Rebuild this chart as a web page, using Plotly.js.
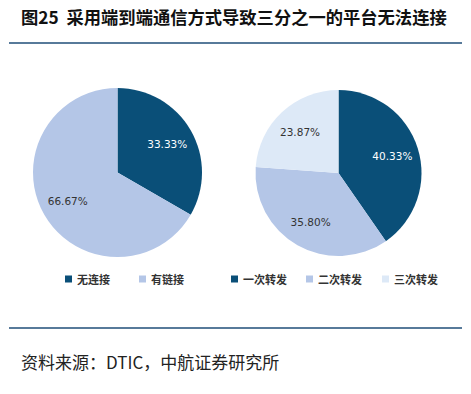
<!DOCTYPE html>
<html>
<head>
<meta charset="utf-8">
<script src="https://cdn.plot.ly/plotly-3.0.1.min.js"></script>
<style>html,body{margin:0;padding:0;background:#fff;}#chart{width:471px;height:394px;}</style>
</head>
<body>
<div id="chart"></div>
<script>
// ---- data ----
const titleText = "图25  采用端到端通信方式导致三分之一的平台无法连接";
const sourceText = "资料来源：DTIC，中航证券研究所";
const leftLabels = ["无连接", "有链接"];
const leftValues = [33.33, 66.67];
const rightLabels = ["一次转发", "二次转发", "三次转发"];
const rightValues = [40.33, 35.80, 23.87];
const leftColors = ["#0a4f78", "#b4c6e7"];
const rightColors = ["#0a4f78", "#b4c6e7", "#dde9f7"];
const leftTextColors = ["#ffffff", "#333333"];
const rightTextColors = ["#ffffff", "#333333", "#333333"];

const W = 471, H = 394;
const px = v => v / W;
const py = v => 1 - v / H;

const cjk = '"Noto Sans CJK SC", "Noto Sans", sans-serif';
const numFont = '"DejaVu Sans", "Liberation Sans", sans-serif';

// filled pie (no text)
function pieFill(labels, values, colors, dom) {
  return {
    type: 'pie', labels: labels, values: values, sort: false,
    direction: 'clockwise', rotation: 0,
    marker: {colors: colors, line: {width: 0}},
    textinfo: 'none', hoverinfo: 'label+value', showlegend: false, domain: dom
  };
}
// transparent ring carrying the percentage labels
function pieText(labels, values, textColors, dom) {
  return {
    type: 'pie', labels: labels, values: values, sort: false,
    direction: 'clockwise', rotation: 0, hole: 0.36,
    marker: {colors: values.map(() => 'rgba(0,0,0,0)'), line: {width: 0}},
    texttemplate: '%{value:.2f}%', textposition: 'inside',
    insidetextorientation: 'horizontal',
    textfont: {family: numFont, size: 10.5, color: textColors},
    hoverinfo: 'skip', showlegend: false, domain: dom
  };
}

const leftDom = {x: [px(33), px(202)], y: [py(257), py(88)]};
const rightDom = {x: [px(255), px(422)], y: [py(256), py(90)]};

const data = [
  pieFill(leftLabels, leftValues, leftColors, leftDom),
  pieFill(rightLabels, rightValues, rightColors, rightDom),
  pieText(leftLabels, leftValues, leftTextColors, leftDom),
  pieText(rightLabels, rightValues, rightTextColors, rightDom)
];

// legend layout (positions of entries, px)
const legendY = 279;
const legendItems = [
  {label: leftLabels[0], color: leftColors[0], x: 65},
  {label: leftLabels[1], color: leftColors[1], x: 139},
  {label: rightLabels[0], color: rightColors[0], x: 231},
  {label: rightLabels[1], color: rightColors[1], x: 306},
  {label: rightLabels[2], color: rightColors[2], x: 382}
];

const shapes = [
  {type: 'line', xref: 'paper', yref: 'paper', x0: px(9), x1: px(462), y0: py(43), y1: py(43),
   line: {color: '#1f4e79', width: 1.6}},
  {type: 'line', xref: 'paper', yref: 'paper', x0: px(9), x1: px(462), y0: py(328), y1: py(328),
   line: {color: '#1f4e79', width: 1.6}}
];
const annotations = [
  {xref: 'paper', yref: 'paper', x: px(19), y: py(17), xanchor: 'left', yanchor: 'middle',
   text: '<b>' + titleText + '</b>', showarrow: false,
   font: {family: cjk, size: 17.3, color: '#111111'}},
  {xref: 'paper', yref: 'paper', x: px(19), y: py(361), xanchor: 'left', yanchor: 'middle',
   text: sourceText, showarrow: false,
   font: {family: cjk, size: 17, color: '#222222'}}
];
legendItems.forEach(it => {
  shapes.push({type: 'rect', xref: 'paper', yref: 'paper',
    x0: px(it.x), x1: px(it.x + 7), y0: py(legendY + 3.5), y1: py(legendY - 3.5),
    fillcolor: it.color, line: {width: 0}});
  annotations.push({xref: 'paper', yref: 'paper', x: px(it.x + 10), y: py(legendY),
    xanchor: 'left', yanchor: 'middle', text: '<b>' + it.label + '</b>', showarrow: false,
    font: {family: cjk, size: 11, color: '#333333'}});
});

const layout = {
  width: W, height: H,
  margin: {l: 0, r: 0, t: 0, b: 0},
  paper_bgcolor: '#ffffff',
  plot_bgcolor: '#ffffff',
  showlegend: false,
  shapes: shapes,
  annotations: annotations
};

Plotly.newPlot('chart', data, layout, {displayModeBar: false, staticPlot: true});
</script>
</body>
</html>
